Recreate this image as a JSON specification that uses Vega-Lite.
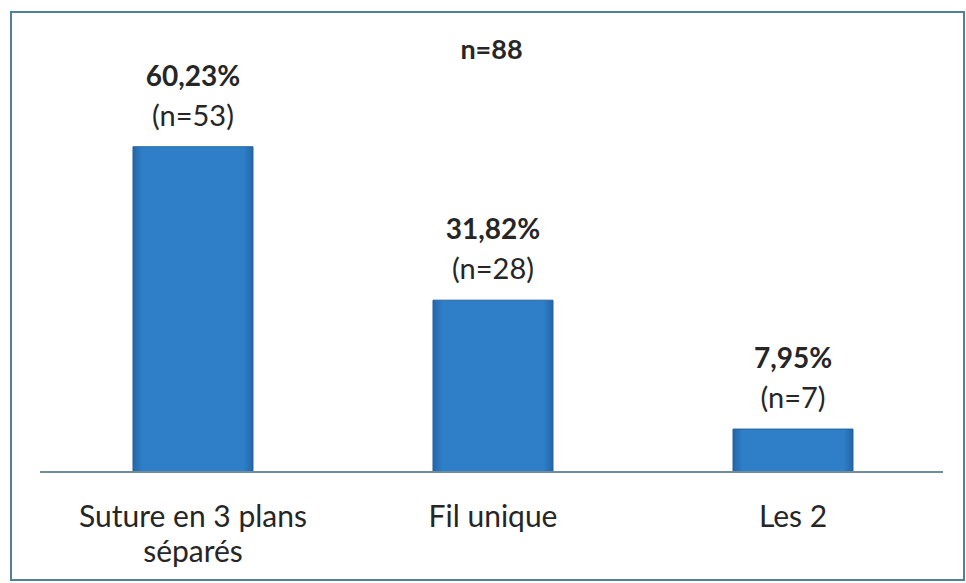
{
  "$schema": "https://vega.github.io/schema/vega-lite/v6.json",
  "width": 953,
  "height": 568,
  "autosize": "none",
  "padding": {"left": 11, "top": 12, "right": 2, "bottom": 3},
  "background": "white",
  "config": {
    "view": {"stroke": "#4f8299", "strokeWidth": 2},
    "font": "Lato"
  },
  "title": {
    "text": "n=88",
    "anchor": "middle",
    "fontSize": 27,
    "fontWeight": "bold",
    "color": "#262626",
    "font": "Lato",
    "baseline": "middle",
    "dy": 70,
    "dx": 4
  },
  "data": {
    "values": [
      {"categorie": "Suture en 3 plans séparés", "pct": 60.23, "n": 53, "pctLabel": "60,23%", "nLabel": "(n=53)"},
      {"categorie": "Fil unique", "pct": 31.82, "n": 28, "pctLabel": "31,82%", "nLabel": "(n=28)"},
      {"categorie": "Les 2", "pct": 7.95, "n": 7, "pctLabel": "7,95%", "nLabel": "(n=7)"}
    ]
  },
  "encoding": {
    "x": {
      "field": "categorie",
      "type": "nominal",
      "sort": null,
      "scale": {"paddingInner": 0.6, "paddingOuter": 0.3883, "align": 0.5236},
      "axis": {
        "title": null,
        "domain": false,
        "ticks": false,
        "labelAngle": 0,
        "labelPadding": 0,
        "offset": -78,
        "labelFont": "Lato",
        "labelFontSize": 30,
        "labelLimit": 0,
        "labelColor": "#262626",
        "labelLineHeight": 35,
        "labelBaseline": "top",
        "labelExpr": "datum.label == 'Suture en 3 plans séparés' ? ['Suture en 3 plans', 'séparés'] : datum.label"
      }
    },
    "y": {
      "field": "pct",
      "type": "quantitative",
      "scale": {"domain": [-20, 85.19], "nice": false, "zero": false},
      "axis": null
    }
  },
  "layer": [
    {
      "mark": {
        "type": "bar",
        "stroke": "#2262a0",
        "strokeWidth": 1,
        "color": {
          "x1": 0, "y1": 0, "x2": 1, "y2": 0,
          "gradient": "linear",
          "stops": [
            {"offset": 0, "color": "#2466a8"},
            {"offset": 0.08, "color": "#2e7fc8"},
            {"offset": 0.92, "color": "#2e7fc8"},
            {"offset": 1, "color": "#2466a8"}
          ]
        }
      },
      "encoding": {
        "y2": {"datum": 0}
      }
    },
    {
      "mark": {"type": "rule", "color": "#6f8d9c", "strokeWidth": 2},
      "encoding": {
        "x": {"datum": "Suture en 3 plans séparés", "bandPosition": -0.775},
        "x2": {"datum": "Les 2", "bandPosition": 1.75},
        "y": {"datum": 0}
      }
    },
    {
      "mark": {"type": "text", "baseline": "middle", "dy": -69, "fontSize": 28, "fontWeight": "bold", "color": "#262626", "font": "Lato"},
      "encoding": {"text": {"field": "pctLabel"}}
    },
    {
      "mark": {"type": "text", "baseline": "middle", "dy": -30, "fontSize": 29, "color": "#262626", "font": "Lato"},
      "encoding": {"text": {"field": "nLabel"}}
    }
  ]
}
